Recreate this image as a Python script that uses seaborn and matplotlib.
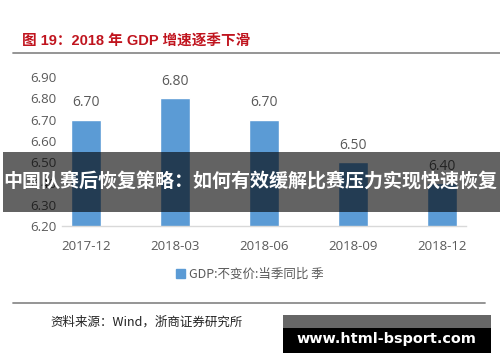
import matplotlib
matplotlib.use("Agg")
import matplotlib.pyplot as plt
import seaborn as sns
import pandas as pd
from matplotlib.patches import Patch, Rectangle
from matplotlib.lines import Line2D

# data
quarters = ["2017-12", "2018-03", "2018-06", "2018-09", "2018-12"]
gdp_yoy = [6.70, 6.80, 6.70, 6.50, 6.40]
yticks = [6.20, 6.30, 6.40, 6.50, 6.60, 6.70, 6.80, 6.90]

title = "图 19：2018 年 GDP 增速逐季下滑"
legend_label = "GDP:不变价:当季同比 季"
source = "资料来源：Wind，浙商证券研究所"
banner = "中国队赛后恢复策略：如何有效缓解比赛压力实现快速恢复"
watermark = "www.html-bsport.com"

sns.set_style("white")
plt.rcParams["font.family"] = ["Open Sans", "Noto Sans CJK SC", "DejaVu Sans"]

df = pd.DataFrame({"quarter": quarters, "gdp": gdp_yoy})

W, H = 500, 362
fig = plt.figure(figsize=(5, 3.62), dpi=100)
ax = fig.add_axes([62 / W, 1 - 226 / H, (466 - 62) / W, (226 - 77) / H])

sns.barplot(data=df, x="quarter", y="gdp", color="#5b9bd5", saturation=1,
            width=0.33, ax=ax)
ax.set_ylim(6.2, 6.9)
ax.set_xlim(-0.27, 4.27)
ax.set_yticks(yticks)
ax.set_yticklabels([f"{v:.2f}" for v in yticks])
ax.set_xlabel("")
ax.set_ylabel("")
ax.tick_params(axis="both", length=0, colors="#595959", labelsize=9.5)
ax.tick_params(axis="y", pad=4)
ax.tick_params(axis="x", pad=10)
for s in ["top", "right", "left"]:
    ax.spines[s].set_visible(False)
ax.spines["bottom"].set_color("#d9d9d9")
ax.spines["bottom"].set_linewidth(1)

for i, v in enumerate(gdp_yoy):
    ax.text(i, v + 0.045, f"{v:.2f}", ha="center", va="bottom",
            color="#595959", fontsize=10, clip_on=False)

# legend
fig.legend(handles=[Patch(color="#5b9bd5", label=legend_label)],
           loc="center", bbox_to_anchor=(0.5, 1 - 274 / H), frameon=False,
           fontsize=9, handlelength=0.7, handleheight=0.7, handletextpad=0.3,
           labelcolor="#595959", prop={"family": ["Noto Sans CJK SC"], "size": 9})

# title + rules
fig.text(22 / W, 1 - 42 / H, title, color="#c0141e", fontsize=10.5,
         fontweight="bold", va="center", ha="left",
         family=["Liberation Sans", "Noto Sans CJK SC"])
fig.add_artist(Line2D([13 / W, 1.0], [1 - 53 / H] * 2, color="#8c8c8c", lw=1.3))
fig.add_artist(Line2D([13 / W, 485 / W], [1 - 303 / H] * 2, color="#8c8c8c", lw=1.3))
fig.text(50 / W, 1 - 322 / H, source, color="#222222", fontsize=9,
         va="center", ha="left", family=["Noto Sans CJK SC"])

# overlay banner
fig.add_artist(Rectangle((3 / W, 1 - 212 / H), 497 / W, 60 / H,
                         transform=fig.transFigure, color="black", alpha=0.61, lw=0))
fig.text(250 / W, 1 - 182 / H, banner, color="white", fontsize=13.7,
         fontweight="bold", ha="center", va="center", family=["Noto Sans CJK SC"])

# watermark box
fig.add_artist(Rectangle((283 / W, 1 - 328 / H), 208 / W, 13 / H,
                         transform=fig.transFigure, color="#666666", lw=0))
fig.add_artist(Rectangle((283 / W, 1 - 353 / H), 208 / W, 25 / H,
                         transform=fig.transFigure, color="black", lw=0))
fig.text(386 / W, 1 - 339 / H, watermark, color="white", fontsize=10.4,
         fontweight="bold", ha="center", va="center", family=["DejaVu Sans"])

fig.savefig("out.png", dpi=100)
